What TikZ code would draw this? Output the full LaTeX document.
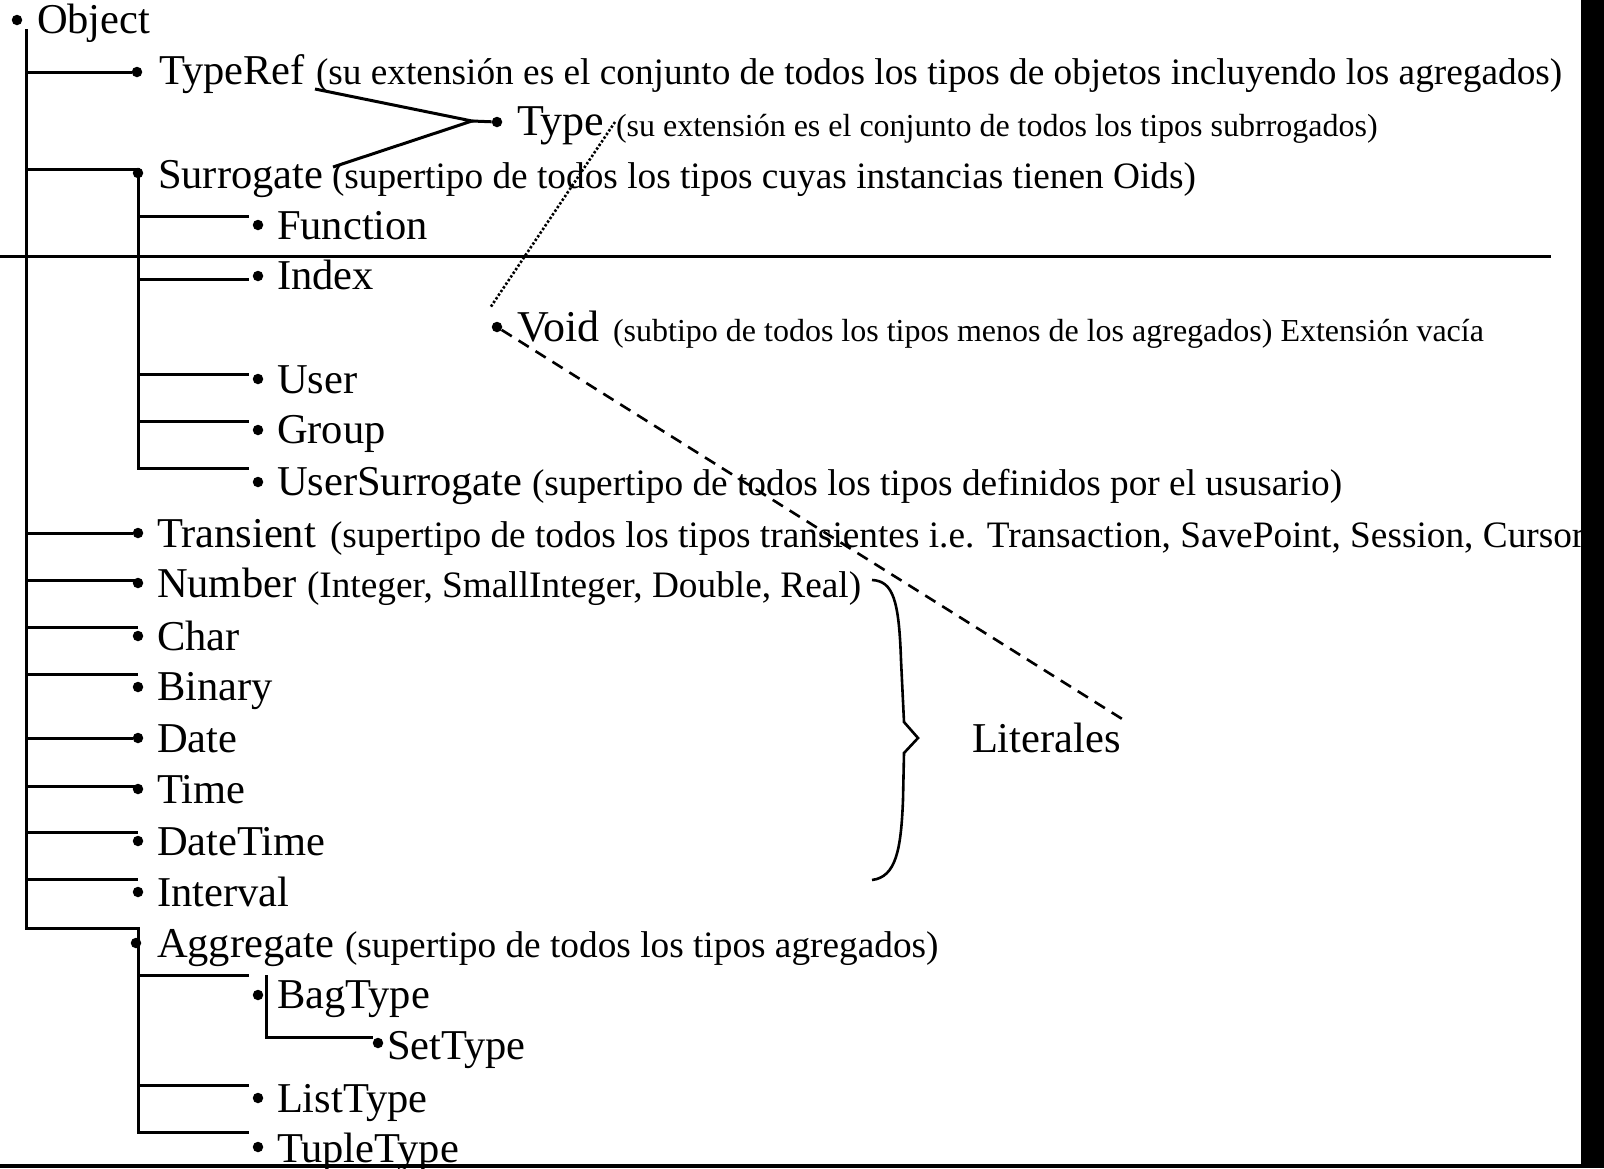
\documentclass[tikz,border=0pt]{standalone}
\usepackage{fontspec}
\setmainfont{Liberation Serif}
\begin{document}
\begin{tikzpicture}[x=1pt,y=-1pt,
  conn/.style={line width=3pt},
  dot/.style={circle,fill=black,inner sep=0pt,minimum size=10.5pt},
  lbl/.style={anchor=base west,inner sep=0pt,outer sep=0pt,font=\fontsize{42.5}{50}\selectfont},
  note/.style={lbl,font=\fontsize{37.3}{44}\selectfont},
  smallnote/.style={lbl,font=\fontsize{32}{38}\selectfont},
  biglbl/.style={lbl,font=\fontsize{44}{52}\selectfont}]
\useasboundingbox (0,0) rectangle (1604,1168);

% ---------- bullets ----------
\node[dot] (b-object)    at (17,20) {};
\node[dot] (b-typeref)   at (137,72) {};
\node[dot] (b-type)      at (497,122) {};
\node[dot] (b-surrogate) at (138,173) {};
\node[dot] (b-function)  at (258,225) {};
\node[dot] (b-index)     at (258,276) {};
\node[dot] (b-void)      at (497,327) {};
\node[dot] (b-user)      at (258,379) {};
\node[dot] (b-group)     at (258,430) {};
\node[dot] (b-usersur)   at (258,482) {};
\node[dot] (b-transient) at (138,533) {};
\node[dot] (b-number)    at (138,583) {};
\node[dot] (b-char)      at (138,636) {};
\node[dot] (b-binary)    at (138,687) {};
\node[dot] (b-date)      at (138,738) {};
\node[dot] (b-time)      at (138,789) {};
\node[dot] (b-datetime)  at (138,841) {};
\node[dot] (b-interval)  at (138,892) {};
\node[dot] (b-aggregate) at (136,943) {};
\node[dot] (b-bag)       at (258,995) {};
\node[dot] (b-set)       at (378,1043) {};
\node[dot] (b-list)      at (258,1098) {};
\node[dot] (b-tuple)     at (258,1147) {};

% ---------- labels ----------
\node[lbl] (object)    at (37,33)   {Object};
\node[lbl] (typeref)   at (159,84)  {TypeRef};
\node[note] (typeref-n) at (316,84) {(su extensión es el conjunto de todos los tipos de objetos incluyendo los agregados)};
\node[biglbl] (type)   at (517,135) {Type};
\node[smallnote] (type-n) at (616,136) {(su extensión es el conjunto de todos los tipos subrrogados)};
\node[lbl] (surrogate) at (158,188) {Surrogate};
\node[note] (surrogate-n) at (332,188) {(supertipo de todos los tipos cuyas instancias tienen Oids)};
\node[lbl] (function)  at (277,239) {Function};
\node[lbl] (index)     at (277,289) {Index};
\node[biglbl] (void)   at (517,341) {Void};
\node[smallnote] (void-n) at (613,341) {(subtipo de todos los tipos menos de los agregados) Extensión vacía};
\node[lbl] (user)      at (277,393) {User};
\node[lbl] (group)     at (277,443) {Group};
\node[lbl] (usersur)   at (277,495) {UserSurrogate};
\node[note] (usersur-n) at (532,495) {(supertipo de todos los tipos definidos por el ususario)};
\node[lbl] (transient) at (157,547) {Transient};
\node[note] (transient-n) at (330,547) {(supertipo de todos los tipos transientes i.e. Transaction, SavePoint, Session, Cursor};
\node[lbl] (number)    at (157,597) {Number};
\node[note] (number-n) at (307,597) {(Integer, SmallInteger, Double, Real)};
\node[lbl] (char)      at (157,650) {Char};
\node[lbl] (binary)    at (157,700) {Binary};
\node[lbl] (date)      at (157,752) {Date};
\node[lbl] (time)      at (157,803) {Time};
\node[lbl] (datetime)  at (157,855) {DateTime};
\node[lbl] (interval)  at (157,906) {Interval};
\node[lbl] (aggregate) at (157,957) {Aggregate};
\node[note] (aggregate-n) at (345,957) {(supertipo de todos los tipos agregados)};
\node[lbl] (bag)       at (277,1008) {BagType};
\node[lbl] (set)       at (387,1059) {SetType};
\node[lbl] (list)      at (277,1112) {ListType};
\node[lbl] (tuple)     at (277,1162) {TupleType};
\node[lbl] (literales) at (972,752) {Literales};

% ---------- tree connectors ----------
\coordinate (trunk-top) at (26,29);
\coordinate (trunk-bot) at (26,928);
\coordinate (sur-x) at (138,0);
\coordinate (sub-end) at (249,0);

\draw[conn] (trunk-top) -- (trunk-bot) -- (sur-x |- trunk-bot) -- (138,1132) -- (sub-end |- 0,1132);
\draw[conn] (26,72) -- (b-typeref);
\draw[conn] (26,169) -- (sur-x |- 0,169) -- (sur-x |- 0,468) -- (sub-end |- 0,468);
\draw[conn] (sur-x |- 0,216) -- (sub-end |- 0,216);
\draw[conn] (sur-x |- 0,279) -- (sub-end |- 0,279);
\draw[conn] (sur-x |- 0,374) -- (sub-end |- 0,374);
\draw[conn] (sur-x |- 0,421) -- (sub-end |- 0,421);
\draw[conn] (26,533) -- (b-transient);
\draw[conn] (26,580) -- (136,580);
\draw[conn] (26,627) -- (138,627);
\draw[conn] (26,674) -- (138,674);
\draw[conn] (26,738) -- (b-date);
\draw[conn] (26,786) -- (136,786);
\draw[conn] (26,832) -- (138,832);
\draw[conn] (26,879) -- (138,879);
\draw[conn] (sur-x |- 0,975) -- (sub-end |- 0,975);
\draw[conn] (266,975) -- (266,1037) -- (373,1037);
\draw[conn] (sur-x |- 0,1085) -- (sub-end |- 0,1085);

% fork joining TypeRef and Surrogate into Type
\coordinate (fork) at (472,121);
\coordinate (fork-a) at (315,89);
\coordinate (fork-b) at (333,167);
\draw[conn] (fork-a) -- (fork) -- (fork-b);
\draw[conn] (fork) -- (b-type);

% dotted link from Type down to Void
\coordinate (dot-top) at (615,122);
\coordinate (dot-bot) at (490,308);
\draw[line width=2.6pt,dash pattern=on 2.4pt off 2pt] (dot-top) -- (dot-bot);

% dashed link from Void to Literales
\coordinate (lit-end) at (1127,722);
\draw[line width=2.6pt,dash pattern=on 12pt off 8pt] (b-void) -- (lit-end);

% brace grouping the literal types
\draw[line width=2.6pt,line join=miter]
  (872,580) .. controls (893,581) and (899,600) .. (901,660)
  -- (904,722) -- (918,738) -- (904,753) -- (903,800)
  .. controls (901,850) and (896,877) .. (872,880);

% long separator line
\draw[line width=3pt] (0,256) -- (1551,256);

% frame edges
\fill[black] (1581,0) rectangle (1604,1168);
\fill[black] (0,1164) rectangle (1604,1168);
\end{tikzpicture}
\end{document}
